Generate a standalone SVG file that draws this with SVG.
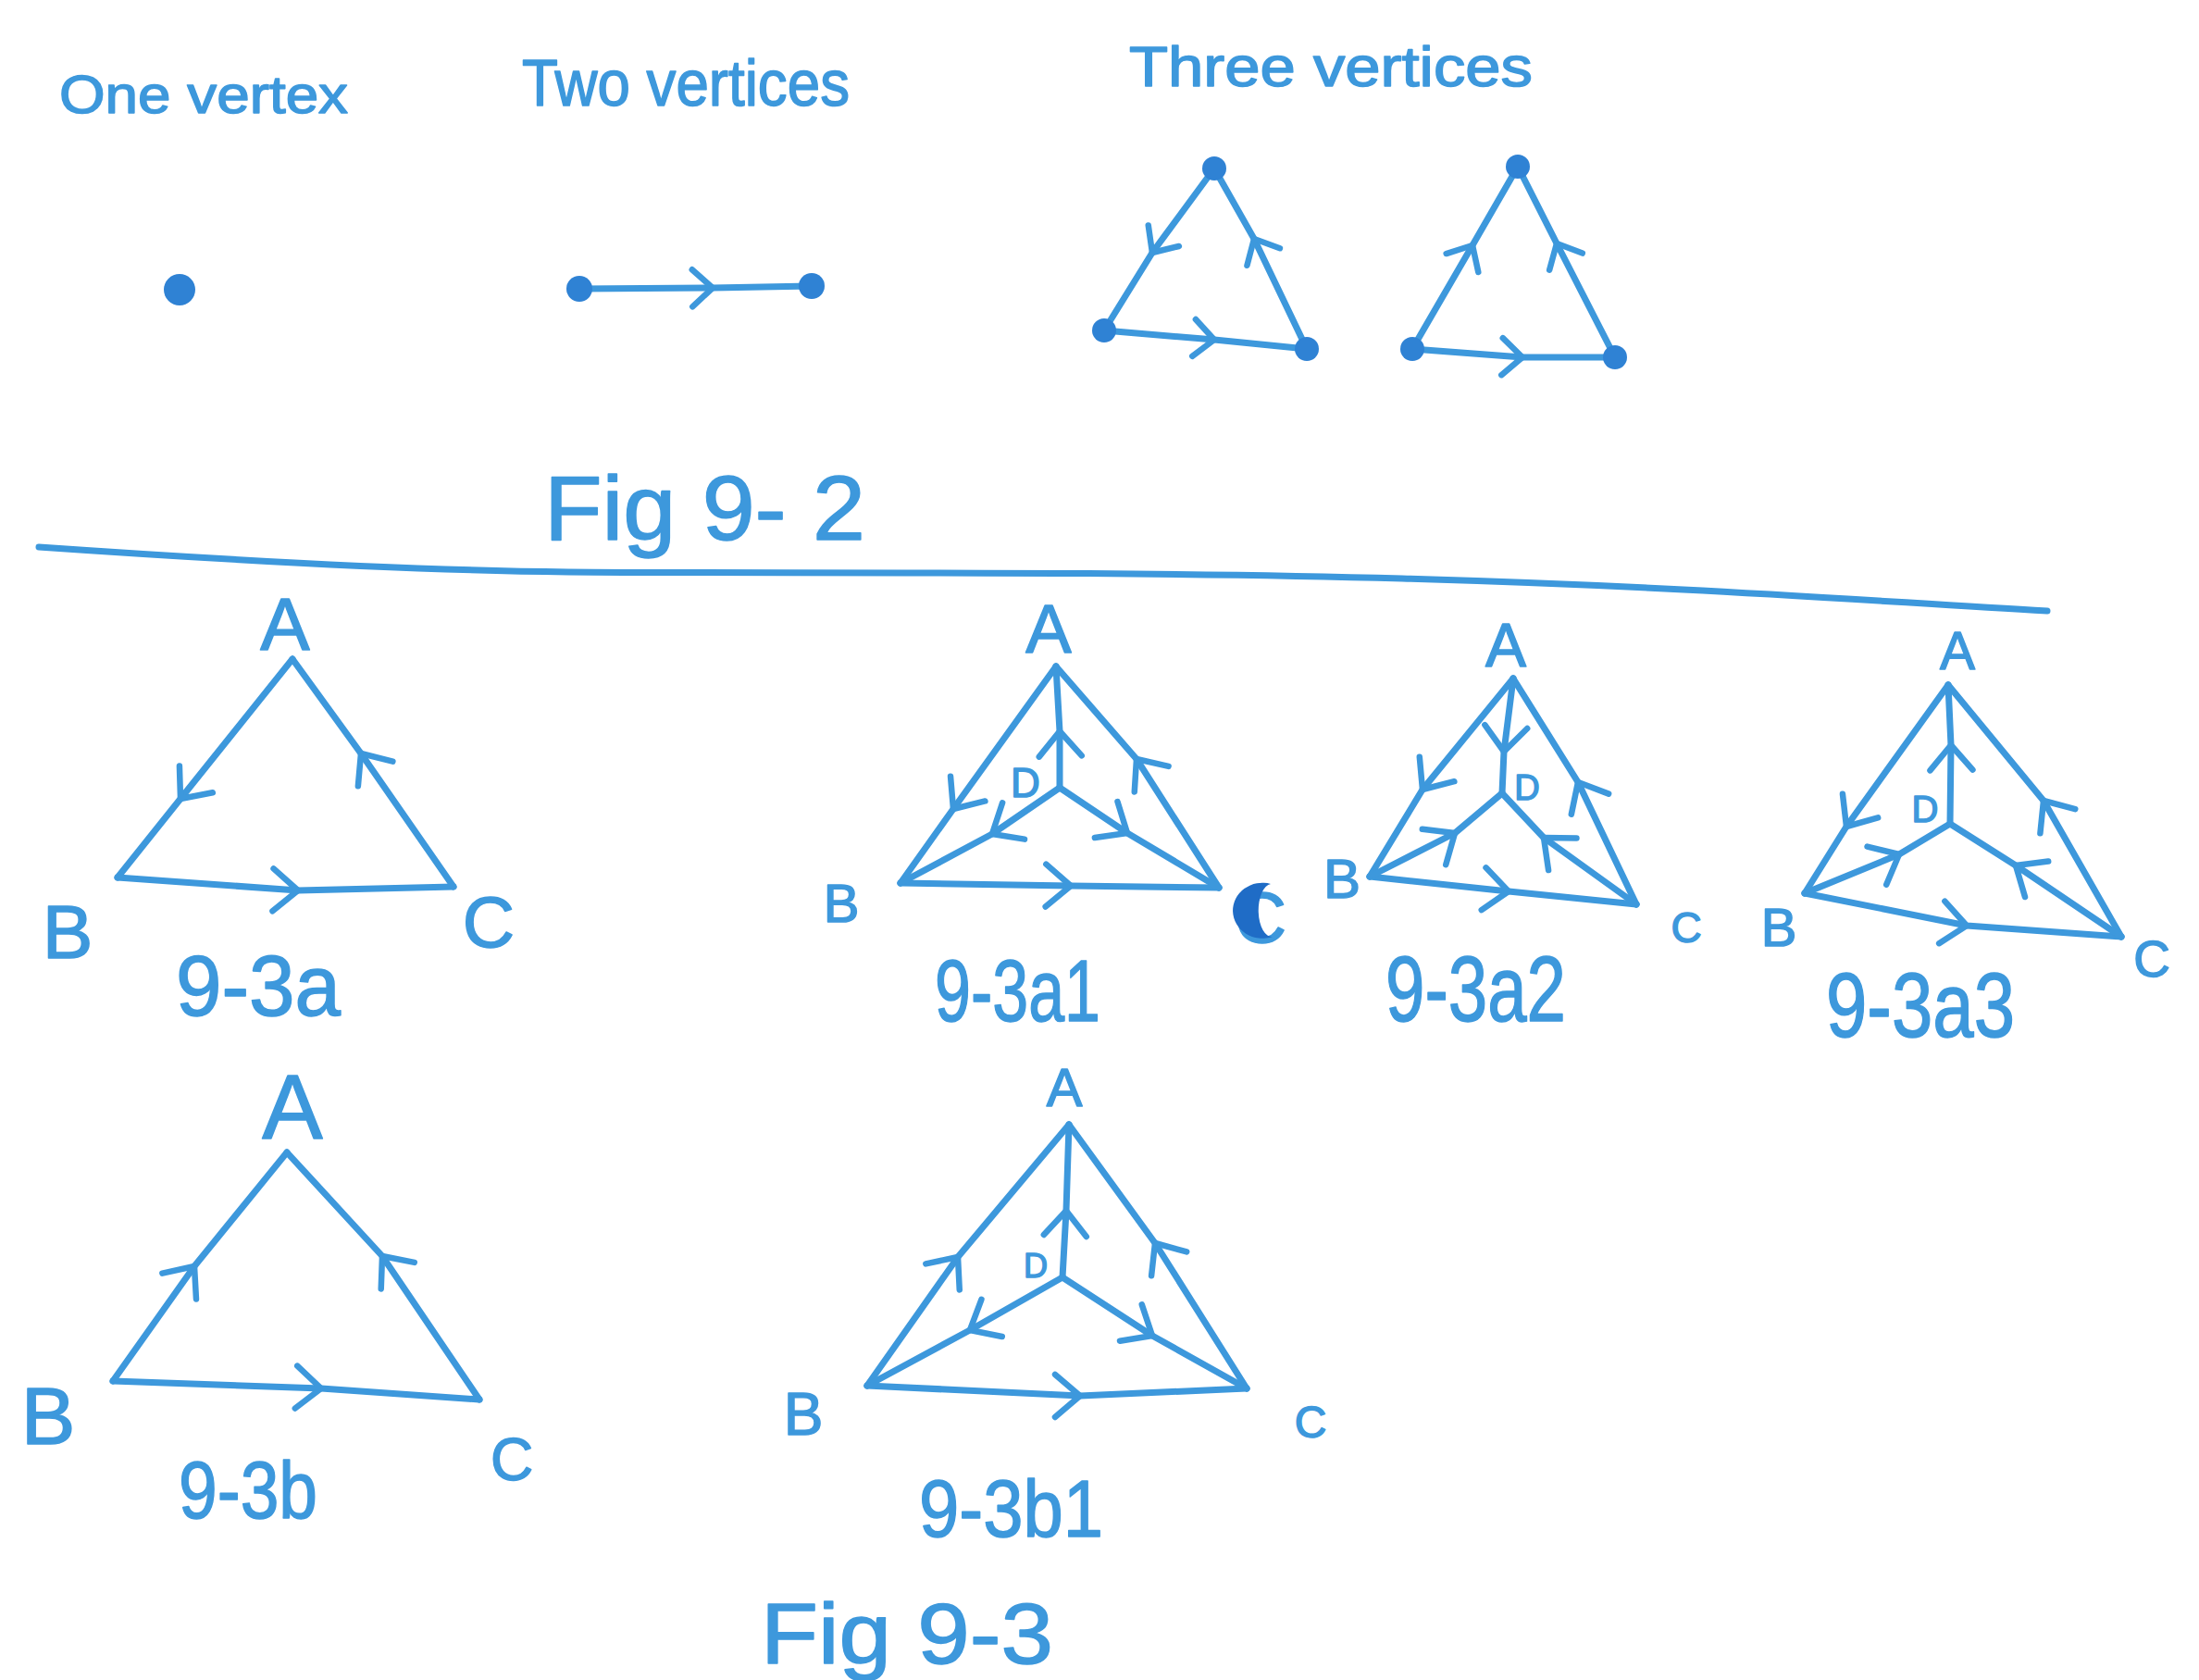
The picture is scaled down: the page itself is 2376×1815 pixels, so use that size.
<svg xmlns="http://www.w3.org/2000/svg" width="2376" height="1815" viewBox="0 0 2376 1815">
<style>
.ln{fill:none;stroke:#3d98dc;stroke-width:7;stroke-linecap:round;stroke-linejoin:round}
.dot{fill:#2f82d4}
.t{font-family:"Liberation Sans",Arial,sans-serif;fill:#3d98dc;stroke:#3d98dc;stroke-width:1.5;stroke-linejoin:round}
.lbl{font-family:"Liberation Sans",Arial,sans-serif;fill:#3d98dc;stroke:#3d98dc;stroke-width:1.5;stroke-linejoin:round;text-anchor:middle}
</style>
<defs>
<marker id="chev" markerUnits="userSpaceOnUse" orient="auto" markerWidth="70" markerHeight="70" viewBox="-50 -35 70 70" refX="0" refY="0" overflow="visible">
<path d="M-27,-23 L0,0 L-27,23" fill="none" stroke="#3d98dc" stroke-width="6.5" stroke-linecap="round" stroke-linejoin="round"/>
</marker>
<marker id="chevS" markerUnits="userSpaceOnUse" orient="auto" markerWidth="60" markerHeight="60" viewBox="-40 -30 60 60" refX="0" refY="0" overflow="visible">
<path d="M-22,-20 L0,0 L-22,20" fill="none" stroke="#3d98dc" stroke-width="6.5" stroke-linecap="round" stroke-linejoin="round"/>
</marker>
</defs>
<rect width="2376" height="1815" fill="#ffffff"/>

<!-- Titles -->
<g id="titles">
<text class="t" x="64" y="122" font-size="58" textLength="312" lengthAdjust="spacingAndGlyphs">One vertex</text>
<text class="t" x="564" y="114" font-size="70" textLength="354" lengthAdjust="spacingAndGlyphs">Two vertices</text>
<text class="t" x="1220" y="93" font-size="62" textLength="436" lengthAdjust="spacingAndGlyphs">Three vertices</text>
<text class="t" x="588" y="583" font-size="98" textLength="347" lengthAdjust="spacingAndGlyphs">Fig 9- 2</text>
<text class="t" x="822" y="1797" font-size="92" textLength="316" lengthAdjust="spacingAndGlyphs">Fig 9-3</text>
</g>

<!-- Divider -->
<path id="divider" class="ln" stroke-width="6" d="M42,591 C200,602 420,616 614,618 S1200,616 1515,625 S2000,648 2212,660"/>

<!-- Connectors -->
<g id="connectors" class="ln">
<g id="e-two">
<path d="M626,312 L770,311 L877,309" marker-mid="url(#chevS)"/>
</g>
<g id="e-three1">
<path d="M1312,182 L1245,273 L1193,357" marker-mid="url(#chevS)"/>
<path d="M1412,377 L1355,258 L1312,182" marker-mid="url(#chevS)"/>
<path d="M1193,357 L1312,367 L1412,377" marker-mid="url(#chevS)"/>
</g>
<g id="e-three2">
<path d="M1526,377 L1591,265 L1640,180" marker-mid="url(#chevS)"/>
<path d="M1745,386 L1682,263 L1640,180" marker-mid="url(#chevS)"/>
<path d="M1526,377 L1645,386 L1745,386" marker-mid="url(#chevS)"/>
</g>
<g id="e-93a">
<path d="M316,712 L195,863 L127,948" marker-mid="url(#chev)"/>
<path d="M127,948 L322,962 L490,958" marker-mid="url(#chev)"/>
<path d="M490,958 L390,814 L316,712" marker-mid="url(#chev)"/>
</g>
<g id="e-93a1">
<path d="M1141,720 L1030,874 L973,954" marker-mid="url(#chev)"/>
<path d="M973,954 L1157,957 L1317,959" marker-mid="url(#chev)"/>
<path d="M1317,959 L1228,820 L1141,720" marker-mid="url(#chev)"/>
<path d="M1145,851 L1145,790 L1141,720" marker-mid="url(#chev)"/>
<path d="M1145,851 L1072,901 L973,954" marker-mid="url(#chev)"/>
<path d="M1145,851 L1218,900 L1317,959" marker-mid="url(#chev)"/>
</g>
<g id="e-93a2">
<path d="M1635,733 L1537,853 L1480,947" marker-mid="url(#chev)"/>
<path d="M1480,947 L1630,963 L1768,977" marker-mid="url(#chev)"/>
<path d="M1768,977 L1705,845 L1635,733" marker-mid="url(#chev)"/>
<path d="M1635,733 L1625,812 L1623,857" marker-mid="url(#chev)"/>
<path d="M1480,947 L1572,900 L1623,857" marker-mid="url(#chev)"/>
<path d="M1768,977 L1668,905 L1623,857" marker-mid="url(#chev)"/>
</g>
<g id="e-93a3">
<path d="M2105,740 L1995,893 L1950,965" marker-mid="url(#chev)"/>
<path d="M1950,965 L2125,1000 L2292,1012" marker-mid="url(#chev)"/>
<path d="M2292,1012 L2208,865 L2105,740" marker-mid="url(#chev)"/>
<path d="M2107,890 L2108,805 L2105,740" marker-mid="url(#chev)"/>
<path d="M1950,965 L2052,923 L2107,890" marker-mid="url(#chev)"/>
<path d="M2292,1012 L2178,935 L2107,890" marker-mid="url(#chev)"/>
</g>
<g id="e-93b">
<path d="M122,1492 L210,1368 L310,1245" marker-mid="url(#chev)"/>
<path d="M518,1512 L413,1357 L310,1245" marker-mid="url(#chev)"/>
<path d="M122,1492 L347,1500 L518,1512" marker-mid="url(#chev)"/>
</g>
<g id="e-93b1">
<path d="M937,1497 L1035,1358 L1155,1215" marker-mid="url(#chev)"/>
<path d="M1347,1500 L1248,1343 L1155,1215" marker-mid="url(#chev)"/>
<path d="M1148,1380 L1152,1308 L1155,1215" marker-mid="url(#chev)"/>
<path d="M1148,1380 L1048,1437 L937,1497" marker-mid="url(#chev)"/>
<path d="M1148,1380 L1245,1443 L1347,1500" marker-mid="url(#chev)"/>
<path d="M937,1497 L1167,1508 L1347,1500" marker-mid="url(#chev)"/>
</g>
</g>

<!-- Nodes: Fig 9-2 -->
<g id="n-one"><circle class="dot" cx="194" cy="313" r="17"/></g>
<g id="n-two-1"><circle class="dot" cx="626" cy="312" r="14"/></g>
<g id="n-two-2"><circle class="dot" cx="877" cy="309" r="14"/></g>
<g id="n-t1-top"><circle class="dot" cx="1312" cy="182" r="13"/></g>
<g id="n-t1-left"><circle class="dot" cx="1193" cy="357" r="13"/></g>
<g id="n-t1-right"><circle class="dot" cx="1412" cy="377" r="13"/></g>
<g id="n-t2-top"><circle class="dot" cx="1640" cy="180" r="13"/></g>
<g id="n-t2-left"><circle class="dot" cx="1526" cy="377" r="13"/></g>
<g id="n-t2-right"><circle class="dot" cx="1745" cy="386" r="13"/></g>

<!-- Nodes: 9-3a -->
<g id="n-93a-A"><text class="lbl" x="308" y="702" font-size="80">A</text></g>
<g id="n-93a-B"><text class="lbl" x="73" y="1035" font-size="82">B</text></g>
<g id="n-93a-C"><text class="lbl" x="528" y="1023" font-size="78">C</text></g>
<text class="t" x="190" y="1097" font-size="92" textLength="178" lengthAdjust="spacingAndGlyphs">9-3a</text>

<!-- Nodes: 9-3a1 -->
<g id="n-93a1-A"><text class="lbl" x="1133" y="705" font-size="74">A</text></g>
<g id="n-93a1-B"><text class="lbl" x="909" y="996" font-size="58">B</text></g>
<g id="n-93a1-C">
<text class="lbl" x="1362" y="1018" font-size="78">C</text>
<path d="M1373,955 A32,30 0 1,0 1375,1012 A14,28 0 0,1 1373,955 Z" fill="#1f6cc6"/>
</g>
<g id="n-93a1-D"><text class="lbl" x="1108" y="861" font-size="44">D</text></g>
<text class="t" x="1010" y="1103" font-size="95" textLength="179" lengthAdjust="spacingAndGlyphs">9-3a1</text>

<!-- Nodes: 9-3a2 -->
<g id="n-93a2-A"><text class="lbl" x="1627" y="720" font-size="66">A</text></g>
<g id="n-93a2-B"><text class="lbl" x="1450" y="970" font-size="60">B</text></g>
<g id="n-93a2-C"><text class="lbl" x="1822" y="1018" font-size="46">C</text></g>
<g id="n-93a2-D"><text class="lbl" x="1650" y="864" font-size="38">D</text></g>
<text class="t" x="1497" y="1103" font-size="100" textLength="195" lengthAdjust="spacingAndGlyphs">9-3a2</text>

<!-- Nodes: 9-3a3 -->
<g id="n-93a3-A"><text class="lbl" x="2115" y="723" font-size="57">A</text></g>
<g id="n-93a3-B"><text class="lbl" x="1922" y="1022" font-size="58">B</text></g>
<g id="n-93a3-C"><text class="lbl" x="2325" y="1055" font-size="55">C</text></g>
<g id="n-93a3-D"><text class="lbl" x="2080" y="888" font-size="40">D</text></g>
<text class="t" x="1973" y="1120" font-size="98" textLength="204" lengthAdjust="spacingAndGlyphs">9-3a3</text>

<!-- Nodes: 9-3b -->
<g id="n-93b-A"><text class="lbl" x="316" y="1230" font-size="98">A</text></g>
<g id="n-93b-B"><text class="lbl" x="52" y="1560" font-size="88">B</text></g>
<g id="n-93b-C"><text class="lbl" x="553" y="1599" font-size="64">C</text></g>
<text class="t" x="193" y="1640" font-size="88" textLength="150" lengthAdjust="spacingAndGlyphs">9-3b</text>

<!-- Nodes: 9-3b1 -->
<g id="n-93b1-A"><text class="lbl" x="1150" y="1195" font-size="58">A</text></g>
<g id="n-93b1-B"><text class="lbl" x="868" y="1550" font-size="64">B</text></g>
<g id="n-93b1-C"><text class="lbl" x="1416" y="1553" font-size="48">C</text></g>
<g id="n-93b1-D"><text class="lbl" x="1119" y="1380" font-size="36">D</text></g>
<text class="t" x="993" y="1660" font-size="88" textLength="199" lengthAdjust="spacingAndGlyphs">9-3b1</text>
</svg>
